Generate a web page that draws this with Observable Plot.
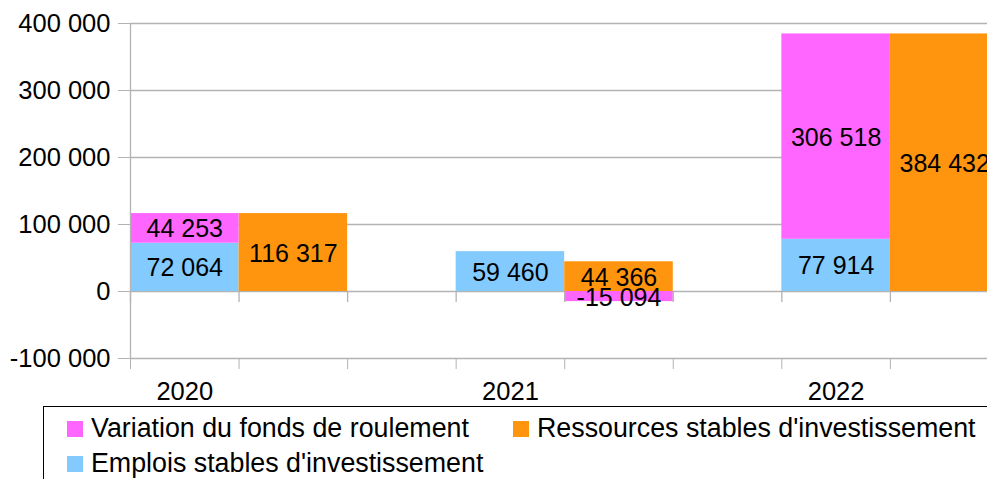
<!DOCTYPE html>
<html><head><meta charset="utf-8">
<script src="https://cdn.jsdelivr.net/npm/d3@7"></script>
<script src="https://cdn.jsdelivr.net/npm/@observablehq/plot@0.6"></script>
<style>
html,body{margin:0;padding:0;background:#fff;overflow:hidden;width:987px;height:479px;}
#chart{font-family:"Liberation Sans",Arial,sans-serif;width:1110px;}
#chart svg{display:block;}
.legend{margin-left:43px;width:1100px;border:1px solid #000;box-sizing:border-box;height:120px;padding:4px 0 0 23px;display:grid;grid-template-columns:446px auto;grid-auto-rows:35px;font:26.8px "Liberation Sans",Arial,sans-serif;color:#000;}
.item{display:flex;align-items:center;white-space:nowrap;}
.sw{width:16px;height:16px;margin-right:8px;flex:none;}
</style></head><body><div id="chart"></div>
<script>
const years = ["2020", "2021", "2022"];
const emplois = [72064, 59460, 77914];
const variation = [44253, -15094, 306518];
const ressources = [116317, 44366, 384432];
const yTicks = [-100000, 0, 100000, 200000, 300000, 400000];
const seriesNames = ["Variation du fonds de roulement", "Ressources stables d'investissement", "Emplois stables d'investissement"];
const colors = ["#ff66ff", "#ff950e", "#83caff"];

const slotsPerYear = 3;
const nSlots = years.length * slotsPerYear;
const boundaries = d3.range(0, nSlots + 1);
const segs = [];
years.forEach((yr, i) => {
  const base = i * slotsPerYear;
  segs.push({series: seriesNames[2], x1: base, x2: base + 1, y1: 0, y2: emplois[i], v: emplois[i]});
  segs.push({series: seriesNames[1], x1: base + 1, x2: base + 2, y1: 0, y2: ressources[i], v: ressources[i]});
  if (variation[i] >= 0) segs.push({series: seriesNames[0], x1: base, x2: base + 1, y1: emplois[i], y2: emplois[i] + variation[i], v: variation[i]});
  else segs.push({series: seriesNames[0], x1: base + 1, x2: base + 2, y1: 0, y2: variation[i], v: variation[i]});
});

const fmt = d3.formatLocale({decimal: ",", thousands: " ", grouping: [3], currency: ["", ""], minus: "-"}).format(",d");
const grid = "#b3b3b3";

const chart = Plot.plot({
  width: 1110, height: 406,
  marginLeft: 130, marginRight: 3, marginTop: 23, marginBottom: 48,
  style: {fontFamily: "'Liberation Sans', Arial, sans-serif", fontSize: "25px", color: "#000", background: "#fff", overflow: "visible"},
  x: {type: "linear", domain: [0, nSlots]},
  y: {domain: [-100000, 400000]},
  color: {domain: seriesNames, range: colors},
  marks: [
    Plot.ruleY(yTicks, {stroke: grid, strokeWidth: 1.3}),
    Plot.rect(segs, {x1: "x1", x2: "x2", y1: "y1", y2: "y2", fill: "series"}),
    Plot.ruleX(boundaries, {y1: 0, y2: 0, insetBottom: -11, stroke: grid, strokeWidth: 1.3}),
    Plot.ruleX([0], {stroke: grid, strokeWidth: 1.3}),
    Plot.axisY({ticks: yTicks, tickSize: 12, tickPadding: 8, tickFormat: fmt, stroke: grid, fill: "#000", fontSize: 25.5}),
    Plot.axisX({ticks: boundaries, tickSize: 11, tickFormat: () => "", stroke: grid, anchor: "bottom", label: null}),
    Plot.axisX({ticks: years.map((y, i) => i * slotsPerYear + 0.5), tickSize: 0, tickPadding: 23, tickFormat: d => years[Math.floor(d / slotsPerYear)], fontSize: 25.5, fill: "#000", anchor: "bottom", label: null}),
    Plot.text(segs, {x: d => (d.x1 + d.x2) / 2, y: d => (d.y1 + d.y2) / 2, text: d => fmt(d.v), fontSize: 25, fill: "#000", dy: 1})
  ]
});
document.getElementById("chart").appendChild(chart);

const legend = document.createElement("div");
legend.className = "legend";
seriesNames.forEach((name, i) => {
  const it = document.createElement("div");
  it.className = "item";
  const sw = document.createElement("span");
  sw.className = "sw";
  sw.style.background = colors[i];
  it.appendChild(sw);
  it.appendChild(document.createTextNode(name));
  legend.appendChild(it);
});
document.getElementById("chart").appendChild(legend);
</script></body></html>
